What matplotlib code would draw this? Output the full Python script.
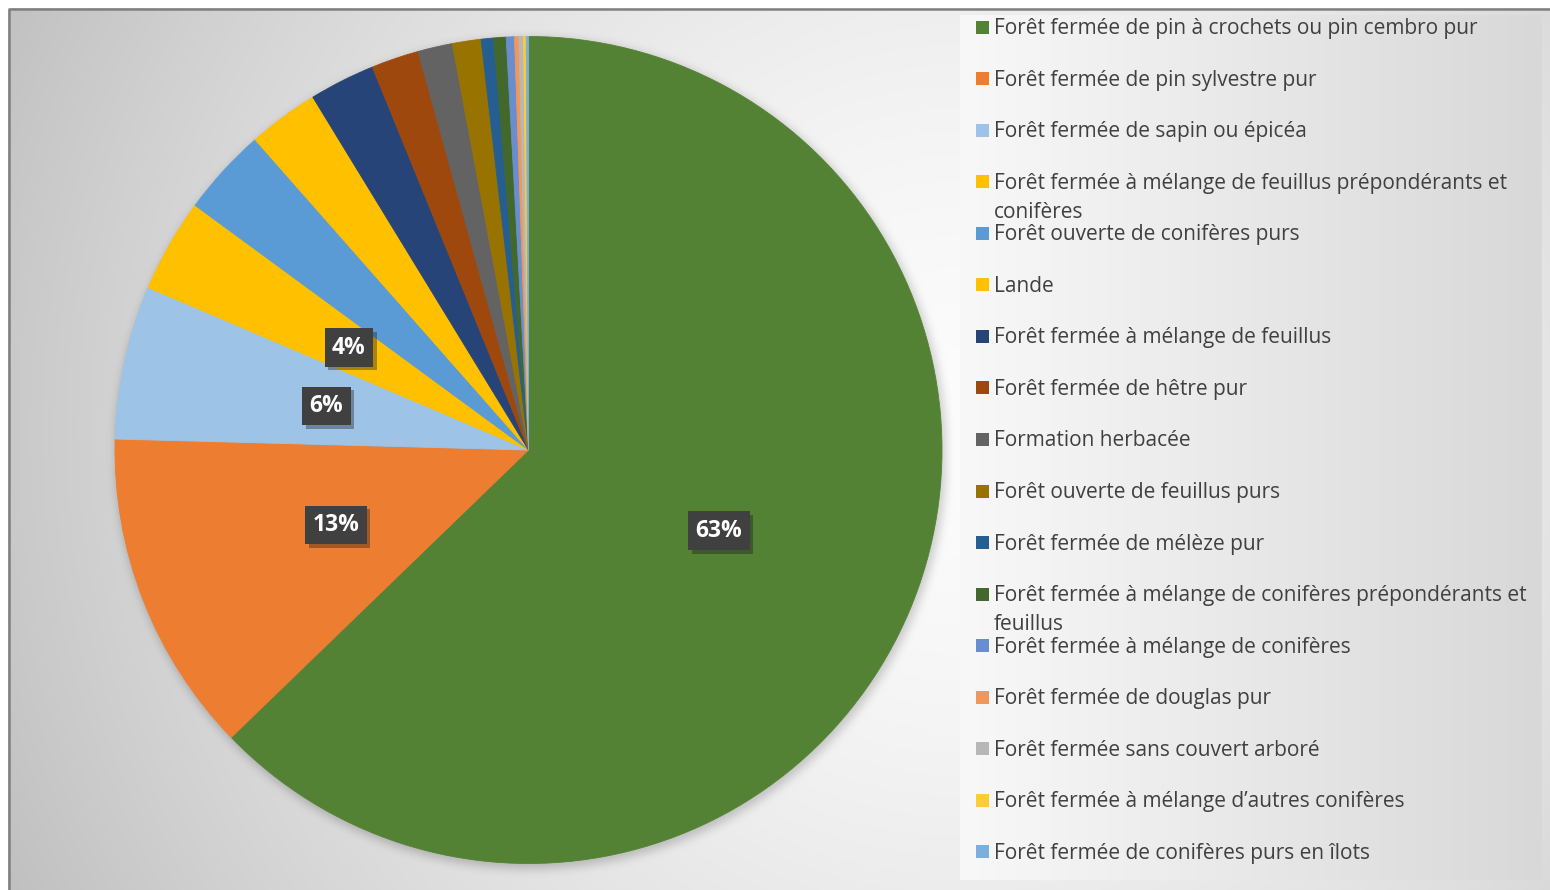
import textwrap
import numpy as np
import matplotlib
matplotlib.use("Agg")
import matplotlib.pyplot as plt
from matplotlib.patches import Rectangle
import matplotlib.patheffects as pe

plt.rcParams['font.family'] = ['Open Sans', 'DejaVu Sans']

# occupation du sol (% de surface)
categories = [
    "Forêt fermée de pin à crochets ou pin cembro pur",
    "Forêt fermée de pin sylvestre pur",
    "Forêt fermée de sapin ou épicéa",
    "Forêt fermée à mélange de feuillus prépondérants et conifères",
    "Forêt ouverte de conifères purs",
    "Lande",
    "Forêt fermée à mélange de feuillus",
    "Forêt fermée de hêtre pur",
    "Formation herbacée",
    "Forêt ouverte de feuillus purs",
    "Forêt fermée de mélèze pur",
    "Forêt fermée à mélange de conifères prépondérants et feuillus",
    "Forêt fermée à mélange de conifères",
    "Forêt fermée de douglas pur",
    "Forêt fermée sans couvert arboré",
    "Forêt fermée à mélange d’autres conifères",
    "Forêt fermée de conifères purs en îlots",
]
shares = [62.75, 12.65, 6.0, 3.65, 3.43, 2.76, 2.57, 1.86, 1.35, 1.12,
          0.48, 0.49, 0.32, 0.17, 0.18, 0.10, 0.09]
colors = ["#548235", "#ED7D31", "#9DC3E6", "#FFC000", "#5B9BD5", "#FFC000",
          "#264478", "#9E480E", "#636363", "#997300", "#255E91", "#43682B",
          "#698ED0", "#F1975A", "#B7B7B7", "#FFCD33", "#7CAFDD"]

W, H = 1550, 890
fig = plt.figure(figsize=(W / 100, H / 100), dpi=100)
fig.patch.set_facecolor("white")


def box_blur(a, k):
    pad = k // 2
    for axis in (0, 1):
        widths = [(pad, pad) if i == axis else (0, 0) for i in range(2)]
        c = np.cumsum(np.pad(a, widths, mode="edge"), axis=axis)
        c = np.insert(c, 0, 0, axis=axis)
        n = a.shape[axis]
        a = (np.take(c, range(k, n + k), axis=axis) - np.take(c, range(0, n), axis=axis)) / k
    return a


# fond dégradé + ombre du camembert + zone de légende
cx, cy, r = 528.5, 450.0, 413.5
yy, xx = np.mgrid[0:H, 0:W].astype(float)
bg = 252 - 55 * (np.hypot(xx - 960, yy - 430) / 1000) ** 1.6
disk = (np.hypot(xx - cx - 2, yy - cy - 3) < r + 2).astype(float)
shadow = disk
for _ in range(3):
    shadow = box_blur(shadow, 9)
bg -= 45 * shadow
lx0, lx1, ly0, ly1 = 960, 1542, 15, 880
panel = (xx >= lx0) & (xx < lx1) & (yy >= ly0) & (yy < ly1)
bg = np.where(panel, 248 - 32 * (xx - lx0) / (lx1 - lx0), bg)
bg[:8, :] = 255
bg[:, :8] = 255

bg_ax = fig.add_axes([0, 0, 1, 1])
bg_ax.imshow(np.dstack([bg] * 3) / 255, extent=(0, W, H, 0), aspect="auto")
bg_ax.add_patch(Rectangle((8.5, 8.5), W, H, fill=False, ec="#808080", lw=1.8))
bg_ax.set_xlim(0, W)
bg_ax.set_ylim(H, 0)
bg_ax.axis("off")

ax = fig.add_axes([(cx - r) / W, (H - cy - r) / H, 2 * r / W, 2 * r / H])
wedges, texts, autotexts = ax.pie(
    shares, colors=colors, startangle=90, counterclock=False,
    autopct=lambda p: f"{p:.0f}%" if p > 3.5 else "", pctdistance=0.5,
    wedgeprops=dict(linewidth=0.6),
    textprops=dict(color="white", fontsize=16.5, fontweight="bold"))
for w, col in zip(wedges, colors):
    w.set_edgecolor(col)
ax.set_xlim(-1, 1)
ax.set_ylim(-1, 1)
for t in autotexts:
    if t.get_text():
        t.set_bbox(dict(boxstyle="square,pad=0.32", fc="#404040", ec="none"))
        t.get_bbox_patch().set_path_effects(
            [pe.SimplePatchShadow(offset=(2.5, -2.5), alpha=0.35), pe.Normal()])

# légende : une ligne de texte par ligne, écart fixe entre les entrées
row_top, row_step, line_gap = 27, 51.56, 29
for i, (name, col) in enumerate(zip(categories, colors)):
    yc = row_top + i * row_step
    fig.add_artist(Rectangle((976 / W, 1 - (yc + 6.5) / H), 13 / W, 13 / H,
                             transform=fig.transFigure, fc=col, ec="none"))
    for j, line in enumerate(textwrap.wrap(name, 52)):
        fig.text(994 / W, 1 - (yc + 7 + j * line_gap) / H, line, va="baseline",
                 ha="left", fontsize=15, color="#404040")

fig.savefig("out.png", dpi=100, facecolor=fig.get_facecolor())
